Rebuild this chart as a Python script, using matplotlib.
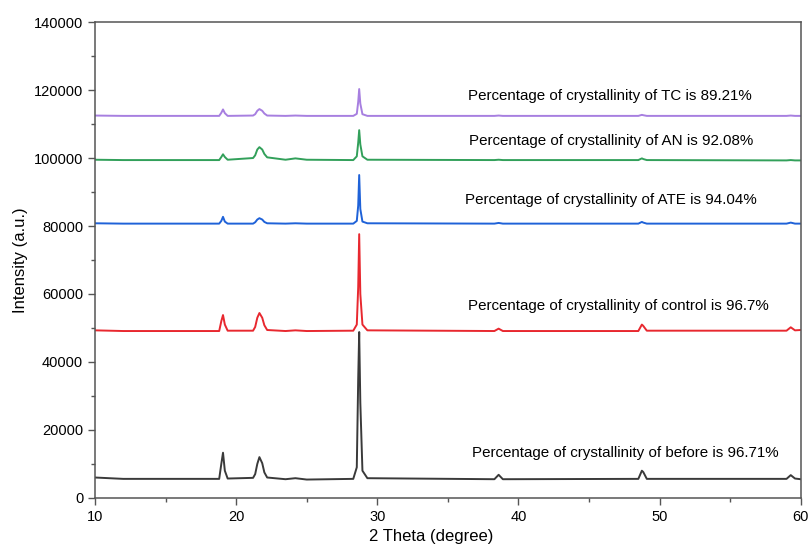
import matplotlib
matplotlib.use("Agg")
import matplotlib.pyplot as plt
from matplotlib.ticker import MultipleLocator

plt.rcParams["font.family"] = ["Liberation Sans", "DejaVu Sans"]

# 2 theta positions of the traced vertices (shared by all patterns)
two_theta = [10, 12, 18.8, 18.95, 19.07, 19.2, 19.4, 21.2, 21.35, 21.5, 21.65, 21.85, 22.0, 22.2,
             23.5, 24.2, 25, 28.3, 28.55, 28.65, 28.72, 28.8, 28.95, 29.3,
             38.3, 38.6, 38.9, 48.5, 48.75, 48.85, 49.1, 59.0, 59.3, 59.6, 60]

before = [6000, 5600, 5600, 10000, 13300, 8000, 5700, 5900, 7000, 10000, 12000, 10200, 7500, 6000,
          5500, 5800, 5400, 5600, 9000, 35000, 48800, 28000, 8000, 5800,
          5500, 6800, 5500, 5600, 8000, 7600, 5600, 5600, 6700, 5700, 5500]
control = [49300, 49100, 49100, 52000, 53800, 51000, 49200, 49200, 50300, 53000, 54400, 53000, 50800, 49400,
           49100, 49300, 49100, 49200, 51000, 62000, 77600, 60000, 51000, 49300,
           49100, 49800, 49100, 49100, 51000, 50600, 49200, 49200, 50200, 49300, 49400]
ate = [80800, 80700, 80700, 81500, 82700, 81300, 80700, 80700, 81100, 81900, 82300, 81900, 81200, 80800,
       80700, 80800, 80700, 80700, 81500, 86000, 95000, 85000, 81300, 80800,
       80700, 80900, 80700, 80700, 81200, 81000, 80700, 80700, 81000, 80700, 80700]
an = [99500, 99400, 99400, 100300, 101100, 100300, 99500, 100000, 100800, 102500, 103200, 102500, 101200, 100200,
      99500, 99900, 99500, 99400, 100500, 104500, 108200, 104000, 100500, 99500,
      99400, 99500, 99400, 99400, 99900, 99700, 99400, 99300, 99400, 99300, 99300]
tc = [112500, 112400, 112400, 113300, 114300, 113200, 112400, 112500, 112900, 113900, 114400, 113900, 113100, 112500,
      112400, 112500, 112400, 112400, 113000, 116500, 120300, 116000, 112900, 112400,
      112400, 112500, 112400, 112400, 112700, 112600, 112400, 112400, 112500, 112400, 112400]

series = [
    (before, "#3a3a3a", "Percentage of crystallinity of before is 96.71%", 36.7, 13200),
    (control, "#e8282f", "Percentage of crystallinity of control is 96.7%", 36.45, 56500),
    (ate, "#1f62d8", "Percentage of crystallinity of ATE is 94.04%", 36.25, 87600),
    (an, "#32a05a", "Percentage of crystallinity of AN is 92.08%", 36.5, 104900),
    (tc, "#a77fe0", "Percentage of crystallinity of TC is 89.21%", 36.45, 118200),
]

fig = plt.figure(figsize=(8.12, 5.52), dpi=100)
ax = fig.add_axes([0.117, 0.098, 0.869, 0.862])

for ys, color, label, tx, ty in series:
    ax.plot(two_theta, ys, color=color, linewidth=1.4)
    ax.text(tx, ty, label, fontsize=10.9, color="black", va="center", ha="left")

ax.set_xlim(10, 60)
ax.set_ylim(0, 140000)
ax.xaxis.set_major_locator(MultipleLocator(10))
ax.xaxis.set_minor_locator(MultipleLocator(5))
ax.yaxis.set_major_locator(MultipleLocator(20000))
ax.yaxis.set_minor_locator(MultipleLocator(10000))
ax.tick_params(which="both", direction="out", top=False, right=False,
               colors="#555555", labelcolor="black", labelsize=10.5)
ax.tick_params(which="major", length=5, width=1)
ax.tick_params(which="minor", length=3, width=1)
for sp in ax.spines.values():
    sp.set_color("#555555")
    sp.set_linewidth(1.1)

ax.set_xlabel("2 Theta (degree)", fontsize=12, labelpad=3)
ax.xaxis.set_label_coords(0.477, -0.065)
ax.set_ylabel("Intensity (a.u.)", fontsize=12, labelpad=4)

fig.savefig("out.png", dpi=100)
